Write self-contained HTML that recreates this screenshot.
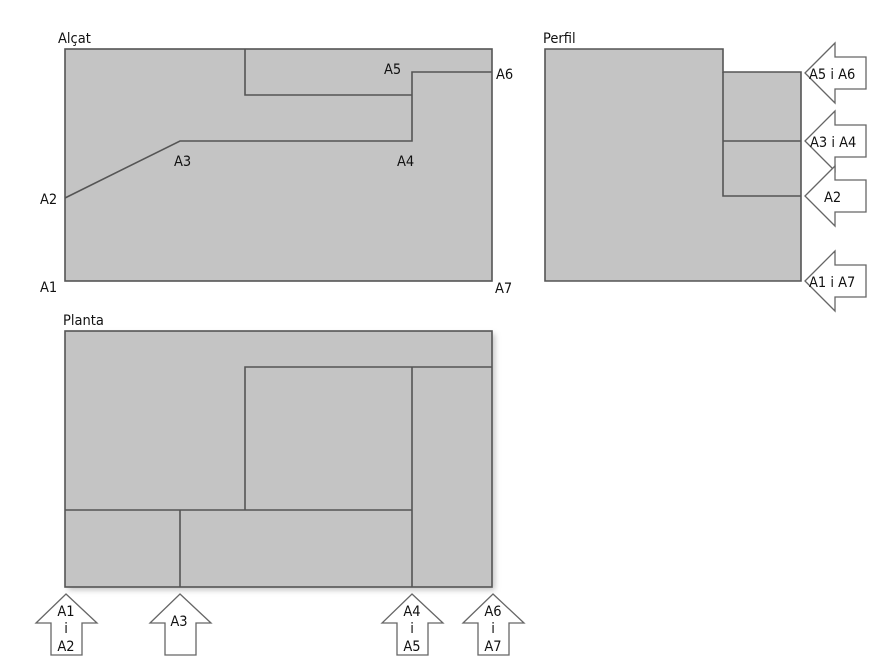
<!DOCTYPE html>
<html><head><meta charset="utf-8"><style>
html,body{margin:0;padding:0;background:#fff;}
svg{display:block;}
text{font-family:"DejaVu Sans Condensed","Liberation Sans",sans-serif;font-size:14.5px;fill:#111;}
</style></head><body>
<svg width="886" height="666" viewBox="0 0 886 666" xmlns="http://www.w3.org/2000/svg">
<defs><filter id="sh" x="-5%" y="-5%" width="110%" height="110%"><feGaussianBlur stdDeviation="3"/></filter></defs>
<g stroke="#555" stroke-width="1.6" fill="none">
<rect x="65" y="49" width="427" height="232" fill="#c4c4c4"/>
<polyline points="245,49 245,95 412,95"/>
<polyline points="65,198 180,141 412,141 412,72 492,72"/>
<polygon points="545,49 723,49 723,72 801,72 801,281 545,281" fill="#c4c4c4"/>
<polyline points="723,72 723,196 801,196"/>
<line x1="723" y1="141" x2="801" y2="141"/>
<rect x="68" y="334" width="427" height="256" fill="#888" stroke="none" filter="url(#sh)" opacity="0.5"/>
<rect x="65" y="331" width="427" height="256" fill="#c4c4c4"/>
<polyline points="245,510 245,367 492,367"/>
<line x1="412" y1="367" x2="412" y2="587"/>
<line x1="65" y1="510" x2="412" y2="510"/>
<line x1="180" y1="510" x2="180" y2="587"/>
</g>
<g stroke="#666" stroke-width="1.3" fill="#fff">
<polygon points="805,73 835,43 835,57 866,57 866,89 835,89 835,103"/>
<polygon points="805,141 835,111 835,125 866,125 866,157 835,157 835,171"/>
<polygon points="805,196 835,166 835,180 866,180 866,212 835,212 835,226"/>
<polygon points="805,281 835,251 835,265 866,265 866,297 835,297 835,311"/>
<g id="up"><polygon points="66,594 97,623 82,623 82,655 51,655 51,623 36,623"/></g>
<use href="#up" x="114"/>
<use href="#up" x="346"/>
<use href="#up" x="427"/>
</g>
<text x="58" y="43">Alçat</text>
<text x="543" y="43">Perfil</text>
<text x="63" y="325">Planta</text>
<text x="384" y="74">A5</text>
<text x="496" y="79">A6</text>
<text x="174" y="166">A3</text>
<text x="397" y="166">A4</text>
<text x="40" y="204">A2</text>
<text x="40" y="292">A1</text>
<text x="495" y="293">A7</text>
<text x="809" y="79">A5 i A6</text>
<text x="810" y="147">A3 i A4</text>
<text x="824" y="202">A2</text>
<text x="809" y="287">A1 i A7</text>
<g text-anchor="middle">
<text x="66" y="616">A1</text><text x="66" y="633">i</text><text x="66" y="651">A2</text>
<text x="179" y="626">A3</text>
<text x="412" y="616">A4</text><text x="412" y="633">i</text><text x="412" y="651">A5</text>
<text x="493" y="616">A6</text><text x="493" y="633">i</text><text x="493" y="651">A7</text>
</g>
</svg>
</body></html>
